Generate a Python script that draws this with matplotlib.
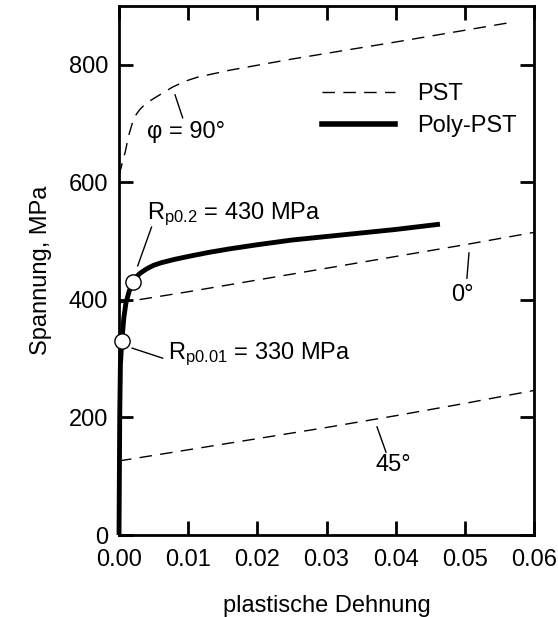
import matplotlib
matplotlib.use('Agg')
import matplotlib.pyplot as plt
from matplotlib.lines import Line2D

plt.rcParams['font.family'] = ['Liberation Sans', 'DejaVu Sans']
plt.rcParams['mathtext.fontset'] = 'custom'
plt.rcParams['mathtext.rm'] = 'Liberation Sans'
plt.rcParams['mathtext.it'] = 'Liberation Sans'

# PST curves (dashed), strain vs stress in MPa
eps_90 = [0, 0.0004, 0.0009, 0.0014, 0.002, 0.0025, 0.003, 0.0035, 0.0045, 0.006, 0.0077,
          0.0095, 0.0113, 0.016, 0.025, 0.04, 0.0565]
sig_90 = [612, 630, 652, 680, 704, 716, 724, 730, 739, 750, 762,
          772, 779, 791, 810, 839, 872]
eps_0 = [0, 0.01, 0.02, 0.03, 0.04, 0.05, 0.06]
sig_0 = [395, 414, 434, 454, 474, 494, 515]
eps_45 = [0, 0.01, 0.02, 0.03, 0.04, 0.05, 0.06]
sig_45 = [126, 145, 164, 183, 203, 224, 246]

# Poly-PST (solid, thick)
eps_poly = [0, 0.0001, 0.0002, 0.0004, 0.0007, 0.001, 0.0015, 0.002, 0.0025, 0.003, 0.004,
            0.005, 0.006, 0.008, 0.01, 0.013, 0.016, 0.02, 0.025, 0.03, 0.035, 0.04, 0.0464]
sig_poly = [0, 200, 290, 330, 370, 395, 416, 430, 439, 445, 453,
            459, 463, 469, 474, 481, 487, 494, 502, 508, 514, 520, 529]

# yield points
eps_rp = [0.0004, 0.002]
sig_rp = [330, 430]

xticks = [0.00, 0.01, 0.02, 0.03, 0.04, 0.05, 0.06]
yticks = [0, 200, 400, 600, 800]

fs = 17
fig = plt.figure(figsize=(5.58, 6.17), dpi=100)
ax = fig.add_axes([0.2133, 0.1329, 0.957 - 0.2133, 0.990 - 0.1329])

dash = (9, 6)
ax.plot(eps_90, sig_90, color='black', lw=1, dashes=dash)
ax.plot(eps_0, sig_0, color='black', lw=1, dashes=dash)
ax.plot(eps_45, sig_45, color='black', lw=1, dashes=dash)
ax.plot(eps_poly, sig_poly, color='black', lw=3.5, clip_on=False,
        solid_capstyle='butt', solid_joinstyle='round')
ax.plot(eps_rp, sig_rp, 'o', ms=11, mfc='white', mec='black', mew=1, zorder=5, clip_on=False)

ax.set_xlim(0, 0.06)
ax.set_ylim(0, 900)
ax.set_xticks(xticks)
ax.set_xticklabels(['%.2f' % v for v in xticks])
ax.set_yticks(yticks)
ax.tick_params(direction='in', length=10, width=2, top=True, right=True,
               labelsize=fs, pad=6)
ax.tick_params(axis='x', pad=10)
ax.tick_params(axis='y', pad=8)
for s in ax.spines.values():
    s.set_linewidth(2)

ax.set_xlabel('plastische Dehnung', fontsize=fs, labelpad=17)
ax.set_ylabel('Spannung, MPa', fontsize=fs, labelpad=12)

# annotations
ax.plot([0.0081, 0.0092], [749, 710], color='black', lw=1)
ax.text(0.0097, 686, 'φ = 90°', fontsize=fs, ha='center', va='center')

ax.plot([0.0047, 0.0027], [524, 458], color='black', lw=1)
ax.text(0.0041, 545, r'$\mathregular{R_{p0.2}}$ = 430 MPa', fontsize=fs, ha='left', va='center')

ax.plot([0.0019, 0.0063], [318, 301], color='black', lw=1)
ax.text(0.0071, 307, r'$\mathregular{R_{p0.01}}$ = 330 MPa', fontsize=fs, ha='left', va='center')

ax.plot([0.0506, 0.0503], [480, 437], color='black', lw=1)
ax.text(0.0497, 408, '0°', fontsize=fs, ha='center', va='center')

ax.plot([0.0373, 0.0386], [184, 141], color='black', lw=1)
ax.text(0.0396, 119, '45°', fontsize=fs, ha='center', va='center')

handles = [Line2D([], [], color='black', lw=1, dashes=dash),
           Line2D([], [], color='black', lw=4)]
ax.legend(handles, ['PST', 'Poly-PST'], loc='upper left', bbox_to_anchor=(0.489, 0.855),
          frameon=False, fontsize=fs, handlelength=3.1, handletextpad=0.95,
          borderpad=0, borderaxespad=0, labelspacing=0.45)

fig.savefig('out.png', dpi=100)
